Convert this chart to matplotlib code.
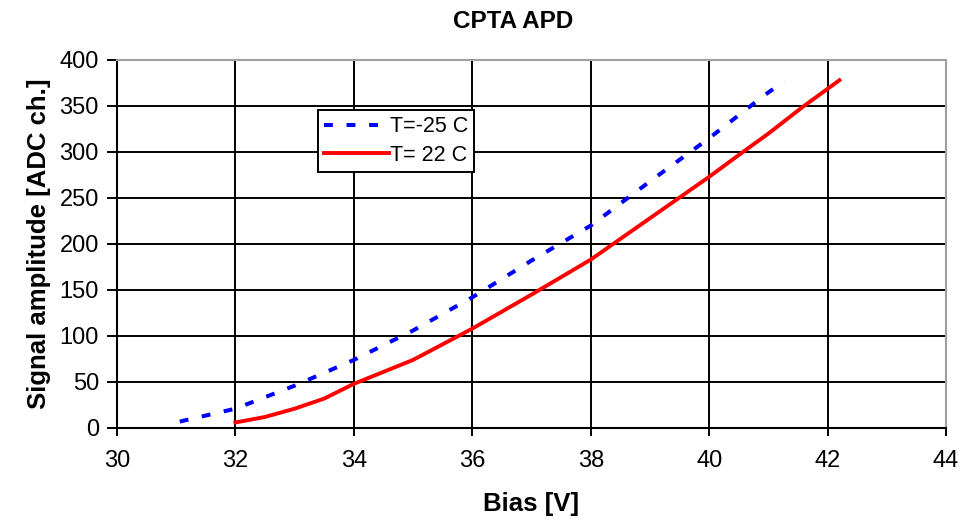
import matplotlib
matplotlib.use("Agg")
import matplotlib.pyplot as plt

plt.rcParams['font.family'] = ['Liberation Sans', 'DejaVu Sans']

# Signal amplitude vs bias for the CPTA APD at two temperatures
bias_cold = [31.06, 32.0, 33.0, 34.0, 35.0, 36.0, 37.0, 38.0, 39.0, 40.0, 40.94, 41.27]
amp_cold = [7, 21, 46, 74, 106, 142, 182, 220, 268, 315, 362, 377]

bias_warm = [32.0, 32.5, 33.0, 33.5, 34.0, 35.0, 36.0, 37.0, 38.0, 39.0, 40.0, 40.57, 41.0, 41.58, 42.2]
amp_warm = [6, 12, 21, 32, 48, 74, 108, 145, 183, 228, 273, 300, 320, 349, 378]

x_ticks = [30, 32, 34, 36, 38, 40, 42, 44]
y_ticks = [0, 50, 100, 150, 200, 250, 300, 350, 400]

fig = plt.figure(figsize=(9.63, 5.28), dpi=100)
ax = fig.add_axes([117 / 963, 1 - 428 / 528, 829 / 963, 368 / 528])

ax.plot(bias_cold, amp_cold, color='#0000ff', lw=2.9, dashes=(2.2, 3.4),
        label='T=-25 C', zorder=3)
ax.plot(bias_warm, amp_warm, color='#ff0000', lw=2.8, label='T= 22 C', zorder=3)

ax.set_xlim(30, 44)
ax.set_ylim(0, 400)
ax.set_xticks(x_ticks)
ax.set_yticks(y_ticks)
ax.grid(True, color='black', lw=1.4)
ax.set_axisbelow(True)

for s in ['left', 'bottom']:
    ax.spines[s].set_color('black')
    ax.spines[s].set_linewidth(1.5)
for s in ['top', 'right']:
    ax.spines[s].set_color('#a0a0a0')
    ax.spines[s].set_linewidth(1.5)

ax.tick_params(axis='both', direction='out', width=1.4, labelsize=17, colors='black')
ax.tick_params(axis='x', length=6, pad=10)
ax.tick_params(axis='y', length=7, pad=6)

ax.set_xlabel('Bias [V]', fontsize=18.5, fontweight='bold', labelpad=14)
ax.set_ylabel('Signal amplitude [ADC ch.]', fontsize=18.5, fontweight='bold', labelpad=6)
fig.text(513 / 963, 1 - 22 / 528, 'CPTA APD', ha='center', va='center',
         fontsize=17.5, fontweight='bold')

leg = ax.legend(loc='upper left', bbox_to_anchor=(0.242, 0.865), fontsize=15.5,
                frameon=True, fancybox=False, framealpha=1, edgecolor='black',
                handlelength=3.0, handletextpad=0.05, borderpad=0.3,
                labelspacing=0.35, borderaxespad=0)
leg.get_frame().set_linewidth(1.4)

fig.savefig('out.png', dpi=100)
